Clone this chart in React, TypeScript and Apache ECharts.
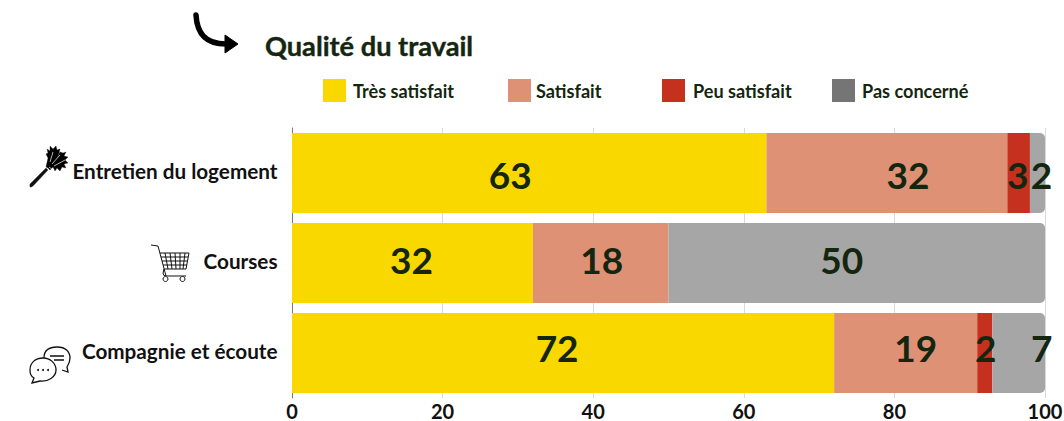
import React, { useEffect, useRef } from "react";
import * as echarts from "echarts";

const categories = ["Entretien du logement", "Courses", "Compagnie et écoute"];
const seriesNames = ["Très satisfait", "Satisfait", "Peu satisfait", "Pas concerné"];
const tresSatisfait = [63, 32, 72];
const satisfait = [32, 18, 19];
const peuSatisfait = [3, 0, 2];
const pasConcerne = [2, 50, 7];
const tickInterval = 20;

const barColors = ["#F9D800", "#DE9175", "#C5301F", "#A6A6A6"];
const legendColors = ["#F9D800", "#DE9175", "#C5301F", "#757575"];
const legendLeft = [323, 508, 662, 832];
const legendGap = [2, 0, 3, 2];
const labelShift = [
  [-19, -1, -6],
  [21, 1, 10],
  [-1, 0, 1],
  [4, -15, 23],
];
const labelShiftY = [1, -4, -6];
const FONT = "Lato";
const DARK = "#14260F";

echarts.graphic.registerShape("arrowCurve", echarts.graphic.extendPath("M196 15 C197 32 204 44 226 44", {}));
echarts.graphic.registerShape("arrowHead", echarts.graphic.extendPath("M225 35 L238 44 L225 53 Z", {}));
echarts.graphic.registerShape(
  "dusterHandle",
  echarts.graphic.extendPath("M30 184 L46 168 L48 170 L33 186 Q29 189 30 184 Z", {})
);
echarts.graphic.registerShape(
  "dusterHead",
  echarts.graphic.extendPath(
    "M46 167 L48 158 L46 154 L48 153 L47 149 L50 151 L50 146 L53 149 L56 146 L57 150 L60 149 L59 153 L56 160 L60 152 L63 153 L66 152 L64 156 L68 157 L65 160 L68 163 L64 164 L66 168 L62 167 L60 171 L57 168 L55 171 L53 167 L50 170 L48 168 Z",
    {}
  )
);
echarts.graphic.registerShape(
  "dusterGaps",
  echarts.graphic.extendPath("M50 162 L53 152 M52 164 L60 155 M54 166 L65 160 M49 167 L53 170", {})
);
echarts.graphic.registerShape(
  "cartLine",
  echarts.graphic.extendPath(
    "M151 245 L158 246 L166 276 L186 276 M160 253 L189 253 L186 269 L164 269 L163 273 Q163 276 166 276 M165 253 L168 269 M170 253 L172 269 M175 253 L176 269 M180 253 L180 269 M185 253 L183 269 M161 257 L188 257 M162 261 L187 261 M163 265 L187 265",
    {}
  )
);
echarts.graphic.registerShape(
  "bubbleBack",
  echarts.graphic.extendPath(
    "M44 358 C44 350 50 347 57 347 C66 347 70 352 70 358 C70 362 68 365 67 367 L68 372 L62 370 M50 356 L64 356 M54 360 L64 360",
    {}
  )
);
echarts.graphic.registerShape(
  "bubbleFront",
  echarts.graphic.extendPath(
    "M43 358 C35 358 30 363 30 370 C30 374 32 377 34 378 L32 383 L40 381 C48 382 56 377 56 370 C56 363 50 358 43 358 Z",
    {}
  )
);

function baseSeries(name: string, values: number[], index: number) {
  return {
    name,
    type: "bar",
    stack: "total",
    barWidth: 80,
    itemStyle: {
      color: barColors[index],
      borderRadius: index === 3 ? [0, 5, 5, 0] : 0,
    },
    label: {
      show: true,
      position: "inside",
      fontFamily: FONT,
      fontWeight: "bold",
      fontSize: 37,
      color: DARK,
    },
    data: values.map((value, i) => ({
      value,
      label: { show: value > 0, offset: [labelShift[index][i], labelShiftY[i]] },
    })),
  };
}

export default function App() {
  const ref = useRef<HTMLDivElement>(null);
  useEffect(() => {
    const chart = echarts.init(ref.current!, undefined, { renderer: "svg" });
    const iconLine = { fill: "none", stroke: "#111", lineWidth: 1 };
    const bubbleLine = { fill: "none", stroke: "#111", lineWidth: 1.3 };
    chart.setOption({
      animation: false,
      title: {
        text: "Qualité du travail",
        left: 265,
        top: 32,
        padding: 0,
        textStyle: {
          fontFamily: FONT,
          fontWeight: "bold",
          fontSize: 27.2,
          color: DARK,
          textBorderColor: DARK,
          textBorderWidth: 0.4,
        },
      },
      legend: seriesNames.map((name, i) => ({
        data: [{ name, icon: "rect", itemStyle: { color: legendColors[i] } }],
        left: legendLeft[i],
        top: 79,
        padding: 0,
        itemWidth: 23,
        itemHeight: 23,
        itemGap: 0,
        selectedMode: false,
        textStyle: { fontFamily: FONT, fontWeight: "bold", fontSize: 18.1, color: DARK, padding: [0, 0, 0, legendGap[i]] },
      })),
      grid: { left: 292, width: 753, top: 128, height: 270, containLabel: false, outerBoundsMode: "none" },
      xAxis: {
        type: "value",
        min: 0,
        max: 100,
        interval: tickInterval,
        axisLine: { show: false },
        axisTick: { show: false },
        splitLine: { show: true, lineStyle: { color: "#D9D9D9", width: 1 } },
        axisLabel: { margin: 5, lineHeight: 16, fontFamily: FONT, fontWeight: "bold", fontSize: 20, color: "#111" },
      },
      yAxis: {
        type: "category",
        inverse: true,
        data: categories,
        axisLine: { show: true, lineStyle: { color: "#777", width: 1 } },
        axisTick: { show: false },
        axisLabel: {
          margin: 14.5,
          fontFamily: FONT,
          fontWeight: "bold",
          fontSize: 20.7,
          color: "#111",
          verticalAlign: "bottom",
          lineHeight: 4,
        },
      },
      series: [
        baseSeries(seriesNames[0], tresSatisfait, 0),
        baseSeries(seriesNames[1], satisfait, 1),
        baseSeries(seriesNames[2], peuSatisfait, 2),
        baseSeries(seriesNames[3], pasConcerne, 3),
      ],
      graphic: [
        { type: "arrowCurve", style: { fill: "none", stroke: "#000", lineWidth: 5.5, lineCap: "round" } },
        { type: "arrowHead", style: { fill: "#000", stroke: "#000", lineWidth: 1 } },
        { type: "dusterHandle", style: { fill: "#111", stroke: "#111", lineWidth: 0.3 } },
        { type: "dusterHead", style: { fill: "#000", stroke: "#000", lineWidth: 0.3 } },
        { type: "dusterGaps", style: { fill: "none", stroke: "#fff", lineWidth: 0.7 } },
        { type: "cartLine", style: iconLine },
        { type: "circle", shape: { cx: 165.5, cy: 279, r: 2.5 }, style: { fill: "#fff", stroke: "#111", lineWidth: 1 } },
        { type: "circle", shape: { cx: 182.5, cy: 279, r: 2.5 }, style: { fill: "#fff", stroke: "#111", lineWidth: 1 } },
        { type: "bubbleBack", style: bubbleLine },
        { type: "bubbleFront", style: { fill: "#fff", stroke: "#111", lineWidth: 1.3 } },
        { type: "circle", shape: { cx: 38, cy: 370, r: 1 }, style: { fill: "#111" } },
        { type: "circle", shape: { cx: 43, cy: 370, r: 1 }, style: { fill: "#111" } },
        { type: "circle", shape: { cx: 48, cy: 370, r: 1 }, style: { fill: "#111" } },
      ],
    });
    return () => chart.dispose();
  }, []);
  return <div ref={ref} style={{ position: "absolute", left: 0, top: 0, width: 1064, height: 421 }} />;
}
